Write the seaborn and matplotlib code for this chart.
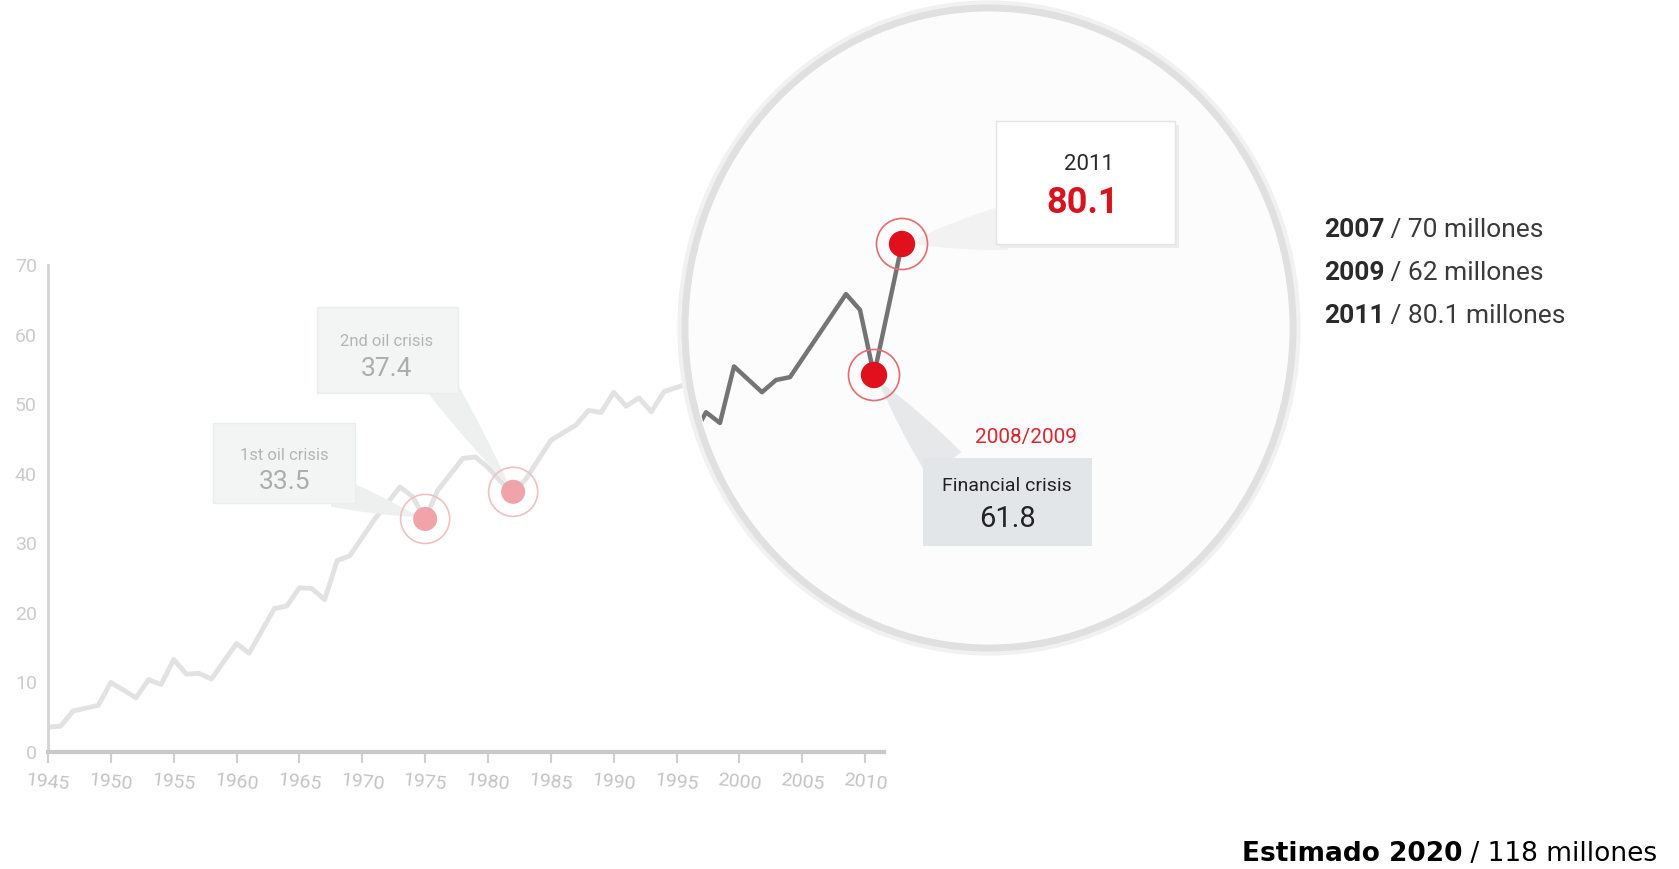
import numpy as np
import pandas as pd
import matplotlib
matplotlib.use("Agg")
import matplotlib.pyplot as plt
import seaborn as sns
from matplotlib import font_manager
from matplotlib.patches import Ellipse, Rectangle

# ==========================================
# DATA (world vehicle production, millions)
# ==========================================

main_years = [1945, 1946, 1947, 1949, 1950, 1952, 1953, 1954, 1955, 1956, 1957, 1958,
              1960, 1961, 1963, 1964, 1965, 1966, 1967, 1968, 1969, 1971, 1972, 1973,
              1974, 1975, 1976, 1978, 1979, 1980, 1981, 1982, 1983, 1985, 1987, 1988,
              1989, 1990, 1991, 1992, 1993, 1994, 1996]
main_values = [3.6, 3.7, 5.9, 6.7, 10.0, 7.8, 10.4, 9.7, 13.3, 11.2, 11.3, 10.5,
               15.6, 14.2, 20.6, 21.0, 23.6, 23.5, 21.9, 27.5, 28.2, 33.5, 35.8, 38.1,
               36.7, 33.5, 37.6, 42.2, 42.4, 40.9, 38.9, 37.4, 39.2, 44.8, 47.0, 49.1,
               48.8, 51.7, 49.7, 50.9, 48.9, 51.8, 53.0]

zoom_years = [1996, 1997, 1998, 1999, 2001, 2002, 2003, 2007, 2008, 2009, 2011]
zoom_values = [53.0, 56.6, 55.1, 63.0, 59.4, 61.1, 61.5, 73.1, 70.9, 61.8, 80.1]

crisis_years = [1975, 1982]
crisis_values = [33.5, 37.4]
crisis_labels = ["1st oil crisis", "2nd oil crisis"]

red_years = [2009, 2011]
red_values = [61.8, 80.1]

side_years = ["2007", "2009", "2011"]
side_values = ["70 millones", "62 millones", "80.1 millones"]

x_ticks = list(range(1945, 2011, 5))
y_ticks = list(range(0, 71, 10))

# ==========================================
# STYLE
# ==========================================

sns.set_theme(style="white")
names = {f.name for f in font_manager.fontManager.ttflist}
COND = "Liberation Sans Narrow" if "Liberation Sans Narrow" in names else "Roboto"
plt.rcParams["font.family"] = [COND, "DejaVu Sans"]

W, H = 1679, 869


def fx(x):
    return x / W


def fy(y):
    return 1 - y / H


fig = plt.figure(figsize=(W / 100, H / 100), dpi=100)
fig.patch.set_facecolor("white")

# ==========================================
# MAIN (faded) CHART
# ==========================================

ax = fig.add_axes([fx(48), fy(752), (884 - 48) / W, (752 - 265) / H], zorder=0)
ax.set_facecolor("none")

sns.lineplot(x=main_years, y=main_values, ax=ax, color="#e2e2e2", linewidth=3.5)

sns.scatterplot(x=crisis_years, y=crisis_values, ax=ax, s=300, color="#f0a3a9",
                edgecolor="none", zorder=5)
ax.scatter(crisis_years, crisis_values, s=1250, facecolors="none",
           edgecolors="#f0c0c3", linewidths=1.2, zorder=5)

ax.set_xlim(1945, 2011.5)
ax.set_ylim(0, 70)
ax.set_xticks(x_ticks)
ax.set_yticks(y_ticks)
ax.set_xlabel("")
ax.set_ylabel("")
ax.tick_params(axis="x", length=8, width=1.5, color="#cfcfcf", labelcolor="#c4c4c4",
               labelsize=14, pad=6, labelrotation=-6, bottom=True)
ax.tick_params(axis="y", length=0, labelcolor="#cbcbcb", labelsize=14, pad=8)
for side in ["top", "right"]:
    ax.spines[side].set_visible(False)
ax.spines["left"].set_color("#d4d4d4")
ax.spines["left"].set_linewidth(2)
ax.spines["bottom"].set_color("#c9c9c9")
ax.spines["bottom"].set_linewidth(3)


def box(x0, y0, x1, y1, fc, ec="none", z=2, shadow=None):
    if shadow:
        fig.add_artist(Rectangle((fx(x0 + 4), fy(y1 + 4)), (x1 - x0) / W, (y1 - y0) / H,
                                 transform=fig.transFigure, fc=shadow, ec="none", zorder=z - 0.1))
    fig.add_artist(Rectangle((fx(x0), fy(y1)), (x1 - x0) / W, (y1 - y0) / H,
                             transform=fig.transFigure, fc=fc, ec=ec, lw=1, zorder=z))


def pointer(axis, xy, tail, width, fc):
    axis.annotate("", xy=xy, xycoords="data", xytext=(fx(tail[0]), fy(tail[1])),
                  textcoords="figure fraction", annotation_clip=False,
                  arrowprops=dict(arrowstyle=f"wedge,tail_width={width},shrink_factor=0.6",
                                  fc=fc, ec="none", mutation_scale=20,
                                  shrinkA=0, shrinkB=4))


# crisis callouts
pointer(ax, (crisis_years[0], crisis_values[0]), (335, 492), 1.1, "#eef0f0")
box(213, 423, 355, 503, "#f3f5f5", ec="#ebeded")
fig.text(fx(284), fy(455), crisis_labels[0], ha="center", va="center",
         fontsize=12, color="#b4b4b4", zorder=3)
fig.text(fx(284), fy(482), f"{crisis_values[0]}", ha="center", va="center",
         fontsize=19, color="#acacac", zorder=3)

pointer(ax, (crisis_years[1], crisis_values[1]), (440, 384), 1.1, "#eef0f0")
box(317, 307, 458, 393, "#f3f5f5", ec="#ebeded")
fig.text(fx(387), fy(342), crisis_labels[1], ha="center", va="center",
         fontsize=12, color="#b4b4b4", zorder=3)
fig.text(fx(387), fy(369), f"{crisis_values[1]}", ha="center", va="center",
         fontsize=19, color="#acacac", zorder=3)

# ==========================================
# MAGNIFIER
# ==========================================

cx, cy, rx, ry = 989, 328, 304, 320
ax_in = fig.add_axes([fx(cx - rx), fy(cy + ry), 2 * rx / W, 2 * ry / H], zorder=0.5)
ax_in.axis("off")
ax_in.add_patch(Ellipse((0.5, 0.5), 1, 1, transform=ax_in.transAxes, fc="none",
                        ec="#f1f1f1", lw=11, clip_on=False, zorder=0))
ax_in.add_patch(Ellipse((0.5, 0.5), 1, 1, transform=ax_in.transAxes, fc="#fcfcfc",
                        ec="#e0e0e0", lw=5, clip_on=False, zorder=0.5))
clip = Ellipse((0.5, 0.5), 0.985, 0.985, transform=ax_in.transAxes)

sns.lineplot(x=zoom_years, y=zoom_values, ax=ax_in, color="#747474", linewidth=3.2)
ax_in.lines[-1].set_clip_path(clip)

sns.scatterplot(x=red_years, y=red_values, ax=ax_in, s=360, color="#e0101d",
                edgecolor="none", zorder=5)
ax_in.scatter(red_years, red_values, s=1350, facecolors="none",
              edgecolors="#e66a72", linewidths=1.2, zorder=5)

ax_in.set_xlim(1995.5, 2038.93)
ax_in.set_ylim(23.67, 113.06)

# 2011 callout
pointer(ax_in, (red_years[1], red_values[1]), (1005, 228), 1.6, "#f2f2f2")
box(996, 121, 1175, 244, "white", ec="#e4e4e4", shadow="#ececec")
fig.text(fx(1089), fy(165), "2011", ha="center", va="center", fontsize=16,
         color="#2b2b2b", zorder=3)
fig.text(fx(1083), fy(203), f"{red_values[1]}", ha="center", va="center", fontsize=26,
         color="#d7141e", weight="bold", zorder=3)

# financial crisis callout
pointer(ax_in, (red_years[0], red_values[0]), (945, 465), 1.5, "#e6e8ea")
box(923, 458, 1092, 546, "#e3e6e9")
fig.text(fx(1026), fy(437), "2008/2009", ha="center", va="center", fontsize=15,
         color="#d9262f", zorder=3)
fig.text(fx(1007), fy(486), "Financial crisis", ha="center", va="center", fontsize=14,
         color="#222222", zorder=3)
fig.text(fx(1007), fy(519), f"{red_values[0]}", ha="center", va="center", fontsize=21,
         color="#222222", zorder=3)

# ==========================================
# SIDE TEXT
# ==========================================

for i, (yr, val) in enumerate(zip(side_years, side_values)):
    t1 = fig.text(fx(1324), fy(230 + 43 * i), yr, ha="left", va="center",
                  fontsize=19, weight="bold", color="#2a2a2a")
    ax.annotate(f" / {val}", xy=(1, 0), xycoords=t1, ha="left", va="bottom",
                fontsize=19, color="#3a3a3a", annotation_clip=False)

t1 = fig.text(fx(1242), fy(854), "Estimado 2020", ha="left", va="center",
              fontsize=19, weight="bold", color="black", family="DejaVu Sans")
ax.annotate(" / 118 millones", xy=(1, 0), xycoords=t1, ha="left", va="bottom",
            fontsize=19, color="black", family="DejaVu Sans", annotation_clip=False)

fig.savefig("out.png", dpi=100)
